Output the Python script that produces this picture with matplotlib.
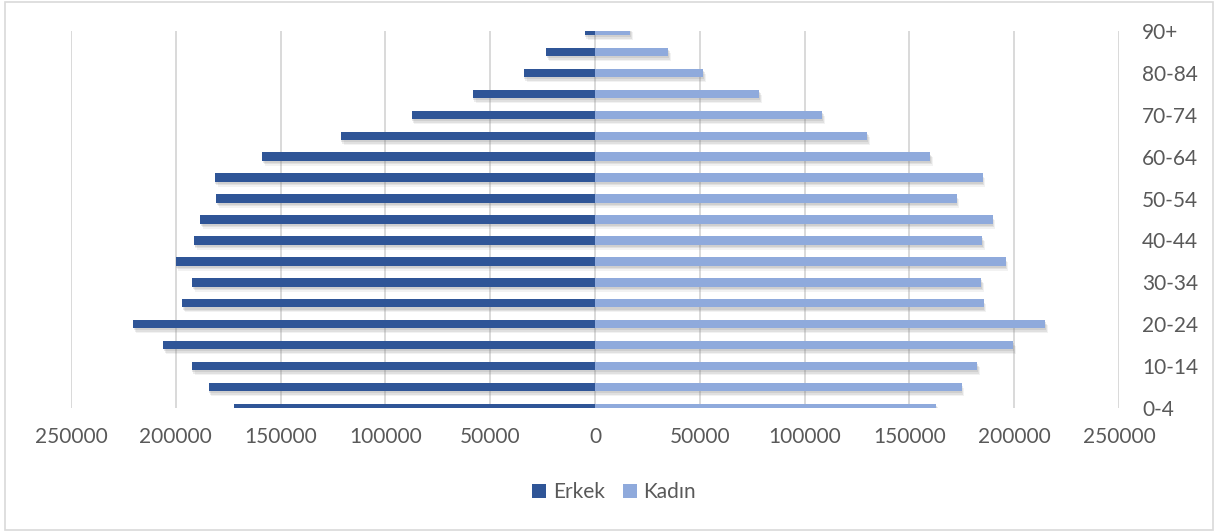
import matplotlib
matplotlib.use("Agg")
import matplotlib.pyplot as plt
import matplotlib.patheffects as pe
from matplotlib.patches import Rectangle, Patch
from matplotlib.ticker import FixedLocator, FuncFormatter

age_groups = ["0-4", "5-9", "10-14", "15-19", "20-24", "25-29", "30-34", "35-39",
              "40-44", "45-49", "50-54", "55-59", "60-64", "65-69", "70-74",
              "75-79", "80-84", "85-89", "90+"]
erkek = [172100, 184300, 192400, 206000, 220200, 197100, 192200, 200100,
         191400, 188500, 180600, 181400, 158800, 121300, 87500,
         58300, 34000, 23300, 4900]
kadin = [162900, 174900, 182400, 199500, 214800, 185400, 184300, 195900,
         184600, 189700, 172500, 184900, 159900, 129700, 108400,
         78200, 51600, 34900, 16800]
x_ticks = [-250000, -200000, -150000, -100000, -50000, 0,
           50000, 100000, 150000, 200000, 250000]

C_ERKEK = "#2F5597"
C_KADIN = "#8FAADC"
TXT = "#595959"
GRID = "#D9D9D9"
FONT = ["Lato", "DejaVu Sans"]
plt.rcParams["font.family"] = FONT

fig = plt.figure(figsize=(12.15, 5.31), dpi=100)
ax = fig.add_axes([71 / 1215, 1 - 408 / 531, (1119 - 71) / 1215, (408 - 31) / 531])

ypos = list(range(len(age_groups)))
shadow = [pe.SimplePatchShadow(offset=(0.5, -1.5), shadow_rgbFace="#808080", alpha=0.18),
          pe.SimplePatchShadow(offset=(1.2, -2.6), shadow_rgbFace="#808080", alpha=0.15),
          pe.SimplePatchShadow(offset=(2.0, -3.6), shadow_rgbFace="#808080", alpha=0.10),
          pe.Normal()]
b1 = ax.barh(ypos, [-v for v in erkek], height=0.4, color=C_ERKEK, zorder=3, label="Erkek")
b2 = ax.barh(ypos, kadin, height=0.4, color=C_KADIN, zorder=3, label="Kadın")
for b in list(b1) + list(b2):
    b.set_path_effects(shadow)

ax.set_xlim(-250000, 250000)
ax.set_ylim(0, len(age_groups) - 1)
ax.xaxis.set_major_locator(FixedLocator(x_ticks))
ax.xaxis.set_major_formatter(FuncFormatter(lambda v, p: f"{abs(int(v))}"))
ax.grid(axis="x", color=GRID, linewidth=1.4, zorder=0)
ax.grid(axis="y", visible=False)
for s in ax.spines.values():
    s.set_visible(False)

ax.set_yticks(ypos)
ax.set_yticklabels([lab if i % 2 == 0 else "" for i, lab in enumerate(age_groups)])
ax.yaxis.tick_right()
ax.tick_params(axis="y", length=0, pad=16.5, labelsize=15, labelcolor=TXT)
for t in ax.get_yticklabels():
    t.set_horizontalalignment("left")
ax.tick_params(axis="x", length=0, pad=14, labelsize=15, labelcolor=TXT)

handles = [Patch(facecolor=C_ERKEK, label="Erkek"), Patch(facecolor=C_KADIN, label="Kadın")]
leg = fig.legend(handles=handles, loc="center", bbox_to_anchor=(614 / 1215, 1 - 492 / 531),
                 ncol=2, frameon=False, fontsize=15, handlelength=0.68, handleheight=0.68,
                 handletextpad=0.3, columnspacing=0.87, labelcolor=TXT)

fig.patches.append(Rectangle((5 / 1215, 1 / 531), 1208 / 1215, 528 / 531, transform=fig.transFigure,
                             fill=False, edgecolor=GRID, linewidth=1.2))

fig.savefig("out.png", dpi=100, facecolor="white")
